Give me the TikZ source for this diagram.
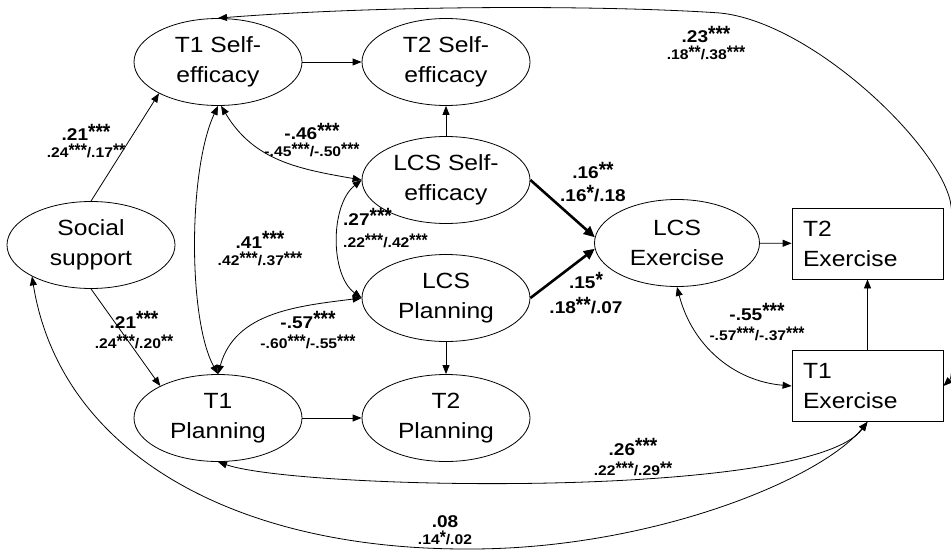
\documentclass[tikz,border=0pt]{standalone}
\usepackage{fontspec}
\usepackage{graphicx}
\setmainfont[FakeStretch=1.12]{Liberation Sans}
\usetikzlibrary{shapes.geometric,arrows.meta}

\newcommand\sr[1]{\raisebox{0.08em}{\scalebox{1.0}[1.3]{\bfseries #1}}}
\newcommand\lab[3][17]{\vbox{\baselineskip=#1pt\lineskiplimit=-100pt\lineskip=0pt\halign{\hfil##\hfil\cr\fontsize{17}{17}\selectfont\bfseries #2\cr\fontsize{14}{14}\selectfont\bfseries #3\cr}}}
\newcommand\labL[3][22]{\vbox{\baselineskip=#1pt\lineskiplimit=-100pt\lineskip=0pt\halign{##\hfil\cr\fontsize{17}{17}\selectfont\bfseries #2\cr\fontsize{14}{14}\selectfont\bfseries #3\cr}}}
\newcommand\labB[3][23]{\vbox{\baselineskip=#1pt\lineskiplimit=-100pt\lineskip=0pt\halign{\hfil##\hfil\cr\fontsize{17}{17}\selectfont\bfseries #2\cr\fontsize{17}{17}\selectfont\bfseries #3\cr}}}

\tikzset{
  ell/.style={ellipse, draw, line width=0.8pt, minimum width=168pt, minimum height=87pt,
    inner sep=0pt, align=center, font=\fontsize{22}{30}\selectfont},
  exbox/.style={rectangle, draw, line width=0.8pt, minimum width=151pt, minimum height=71pt,
    inner xsep=11pt, inner ysep=0pt, text width=129pt, align=left, font=\fontsize{22}{30}\selectfont},
  conn/.style={line width=0.8pt, -{Triangle[length=9pt,width=7pt]}},
  cov/.style={line width=0.8pt, {Triangle[length=9pt,width=7pt]}-{Triangle[length=9pt,width=7pt]}},
  boldconn/.style={line width=2.6pt, -{Triangle[length=11pt,width=10pt]}},
  lbl/.style={inner sep=0pt}
}

\begin{document}
\begin{tikzpicture}[x=1pt,y=-1pt]
\useasboundingbox (0,0) rectangle (951,551);

% nodes
\node[ell] (t1se) at (218,62) {T1 Self-\\efficacy};
\node[ell] (t2se) at (446,62) {T2 Self-\\efficacy};
\node[ell] (lcsse) at (446,180) {LCS Self-\\efficacy};
\node[ell] (lcsp) at (446,298) {LCS\\Planning};
\node[ell] (t1p) at (218,418) {T1\\Planning};
\node[ell] (t2p) at (446,418) {T2\\Planning};
\node[ell] (ss) at (91,245) {Social\\support};
\node[ell, minimum width=165pt] (lcsex) at (677,243) {LCS\\Exercise};
\node[exbox] (t2ex) at (867.5,243.5) {T2\\Exercise};
\node[exbox] (t1ex) at (867.5,386) {T1\\Exercise};

\coordinate (c1) at (720,13);
\coordinate (c2) at (950,200);
\coordinate (c3) at (470,549);

% straight paths
\draw[conn] (t1se) -- (t2se);
\draw[conn] (lcsse) -- (t2se);
\draw[conn] (lcsp) -- (t2p);
\draw[conn] (t1p) -- (t2p);
\draw[conn] (lcsex) -- (t2ex);
\draw[conn] (t1ex) -- (t2ex);
\draw[conn] (ss.north) -- (t1se.208);
\draw[conn] (ss.south) -- (t1p.151);
\draw[boldconn] (lcsse.east) -- (lcsex.176);
\draw[boldconn] (lcsp.east) -- (lcsex.184);

% covariances
\draw[cov] (t1se.south) .. controls (188,170) and (188,320) .. (t1p.north);
\draw[cov] (t1se.-86) .. controls (254,161) and (299,169) .. (lcsse.west);
\draw[cov] (lcsse.west) .. controls (330,205) and (330,275) .. (lcsp.west);
\draw[cov] (t1p.north) .. controls (235,312) and (298,306) .. (lcsp.west);
\draw[cov] (lcsex.south) .. controls (692,345) and (733,381) .. (t1ex.west);
\draw[cov] (t1se.north) .. controls (400,4) and (620,6) .. (c1)
  .. controls (810,22) and (935,140) .. (c2)
  .. controls (956,224) and (955,375) .. (t1ex.east);
\draw[cov] (t1p.south) .. controls (300,490) and (810,500) .. (t1ex.south);
\draw[cov] (ss.208) .. controls (60,450) and (230,550) .. (c3)
  .. controls (650,549) and (820,480) .. (t1ex.south);

% labels
\node[lbl] (l1) at (86,141) {\lab[17]{.21\sr{***}}{.24\sr{***}/.17\sr{**}}};
\node[lbl] (l2) at (134,330) {\lab[20]{.21\sr{***}}{.24\sr{***}/.20\sr{**}}};
\node[lbl] (l3) at (260,248.5) {\lab[17]{.41\sr{***}}{.42\sr{***}/.37\sr{***}}};
\node[lbl] (l4) at (312,140) {\lab[17]{-.46\sr{***}}{-.45\sr{***}/-.50\sr{***}}};
\node[lbl, anchor=west] (l5) at (343,228) {\labL[22]{.27\sr{***}}{.22\sr{***}/.42\sr{***}}};
\node[lbl] (l6) at (308,330) {\lab[20]{-.57\sr{***}}{-.60\sr{***}/-.55\sr{***}}};
\node[lbl] (l7) at (593,182) {\labB[23]{.16\sr{**}}{.16\sr{*}/.18}};
\node[lbl] (l8) at (586,293) {\labB[25]{.15\sr{*}}{.18\sr{**}/.07}};
\node[lbl] (l9) at (757,322) {\lab[20]{-.55\sr{***}}{-.57\sr{***}/-.37\sr{***}}};
\node[lbl] (l10) at (706,43) {\lab[17]{.23\sr{***}}{.18\sr{**}/.38\sr{***}}};
\node[lbl] (l11) at (633,457) {\lab[20]{.26\sr{***}}{.22\sr{***}/.29\sr{**}}};
\node[lbl] (l12) at (445,530) {\lab[17]{.08}{.14\sr{*}/.02}};
\end{tikzpicture}
\end{document}
